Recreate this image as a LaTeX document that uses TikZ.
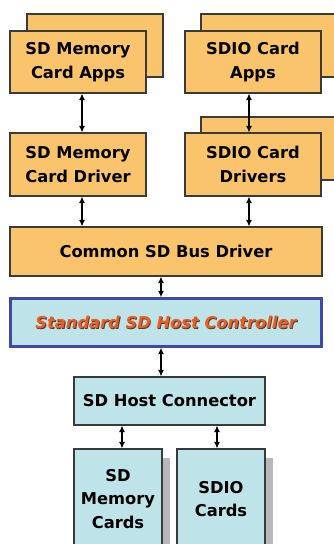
\documentclass[tikz,border=0pt]{standalone}
\usepackage{fontspec}
\setmainfont{DejaVu Sans}
\usepackage{tikz}
\usetikzlibrary{arrows.meta,positioning,calc,shadows}
\definecolor{cSoft}{RGB}{249,196,107}
\definecolor{cHw}{RGB}{190,227,232}
\definecolor{cEdge}{RGB}{58,58,58}
\definecolor{cHost}{RGB}{63,72,168}
\definecolor{cHostTxt}{RGB}{240,92,30}
\newcommand{\shadowed}[1]{%
\makebox[0pt][l]{\hspace{0.9pt}\raisebox{-0.9pt}{\color{black!75}#1}}{\color{cHostTxt}#1}%
}
\tikzset{
  sw/.style={rectangle, draw=cEdge, line width=1.1pt, fill=cSoft, align=center, inner sep=0pt, minimum width=136pt, minimum height=62pt},
  swbk/.style={sw, minimum height=63pt},
  hw/.style={rectangle, draw=cEdge, line width=1.1pt, fill=cHw, align=center, inner sep=0pt},
  card/.style={hw, minimum width=88pt, minimum height=100pt, drop shadow={shadow xshift=8pt, shadow yshift=-9pt, fill=black!28, opacity=1}},
  link/.style={{Latex[length=6.5pt,width=6pt]}-{Latex[length=6.5pt,width=6pt]}, line width=1.2pt, black},
}

\begin{document}
\begin{tikzpicture}[x=1pt, y=1pt, font=\fontsize{16.3}{23.5}\selectfont\bfseries]
  \useasboundingbox (0,0) rectangle (334,544);
  \node[swbk] (mappsbk) at (95, 498.5) {};
  \node[sw] (mapps) at (78, 482) {SD Memory\\Card Apps};
  \node[swbk] (sappsbk) at (269, 498.5) {};
  \node[sw] (sapps) at (253, 482) {SDIO Card\\Apps};
  \node[sw, minimum height=63pt] (mdrv) at (78, 379.5) {SD Memory\\Card Driver};
  \node[swbk] (sdrvbk) at (269, 395.5) {};
  \node[sw, minimum height=63pt] (sdrv) at (253, 379.5) {SDIO Card\\Drivers};
  \node[sw, minimum width=312pt, minimum height=49pt] (bus) at (166, 292.5) {Common SD Bus Driver};
  \node[hw, draw=cHost, line width=2.4pt, minimum width=311pt, minimum height=48pt] (host) at (166, 221.5)
    {\itshape\shadowed{Standard SD Host Controller}};
  \node[hw, minimum width=191pt, minimum height=48pt] (conn) at (169.5, 143) {SD Host Connector};
  \node[card] (mcards) at (118, 45) {SD\\Memory\\Cards};
  \node[card] (scards) at (221, 45) {SDIO\\Cards};
  \draw[link] ([xshift=4pt]mapps.south) -- ([xshift=4pt]mdrv.north);
  \draw[link] ([xshift=-4pt]sapps.south) -- ([xshift=-4pt]sdrv.north);
  \draw[link] ([xshift=4pt]mdrv.south) -- ([xshift=4pt]mdrv.south |- bus.north);
  \draw[link] ([xshift=-4pt]sdrv.south) -- ([xshift=-4pt]sdrv.south |- bus.north);
  \draw[link] ([xshift=-5pt]bus.south) -- ([xshift=-5pt]host.north);
  \draw[link] ([xshift=-5pt]host.south) -- ([xshift=-5pt]host.south |- conn.north);
  \draw[link] ([xshift=4pt]mcards.north |- conn.south) -- ([xshift=4pt]mcards.north);
  \draw[link] ([xshift=-4pt]scards.north |- conn.south) -- ([xshift=-4pt]scards.north);
\end{tikzpicture}
\end{document}
